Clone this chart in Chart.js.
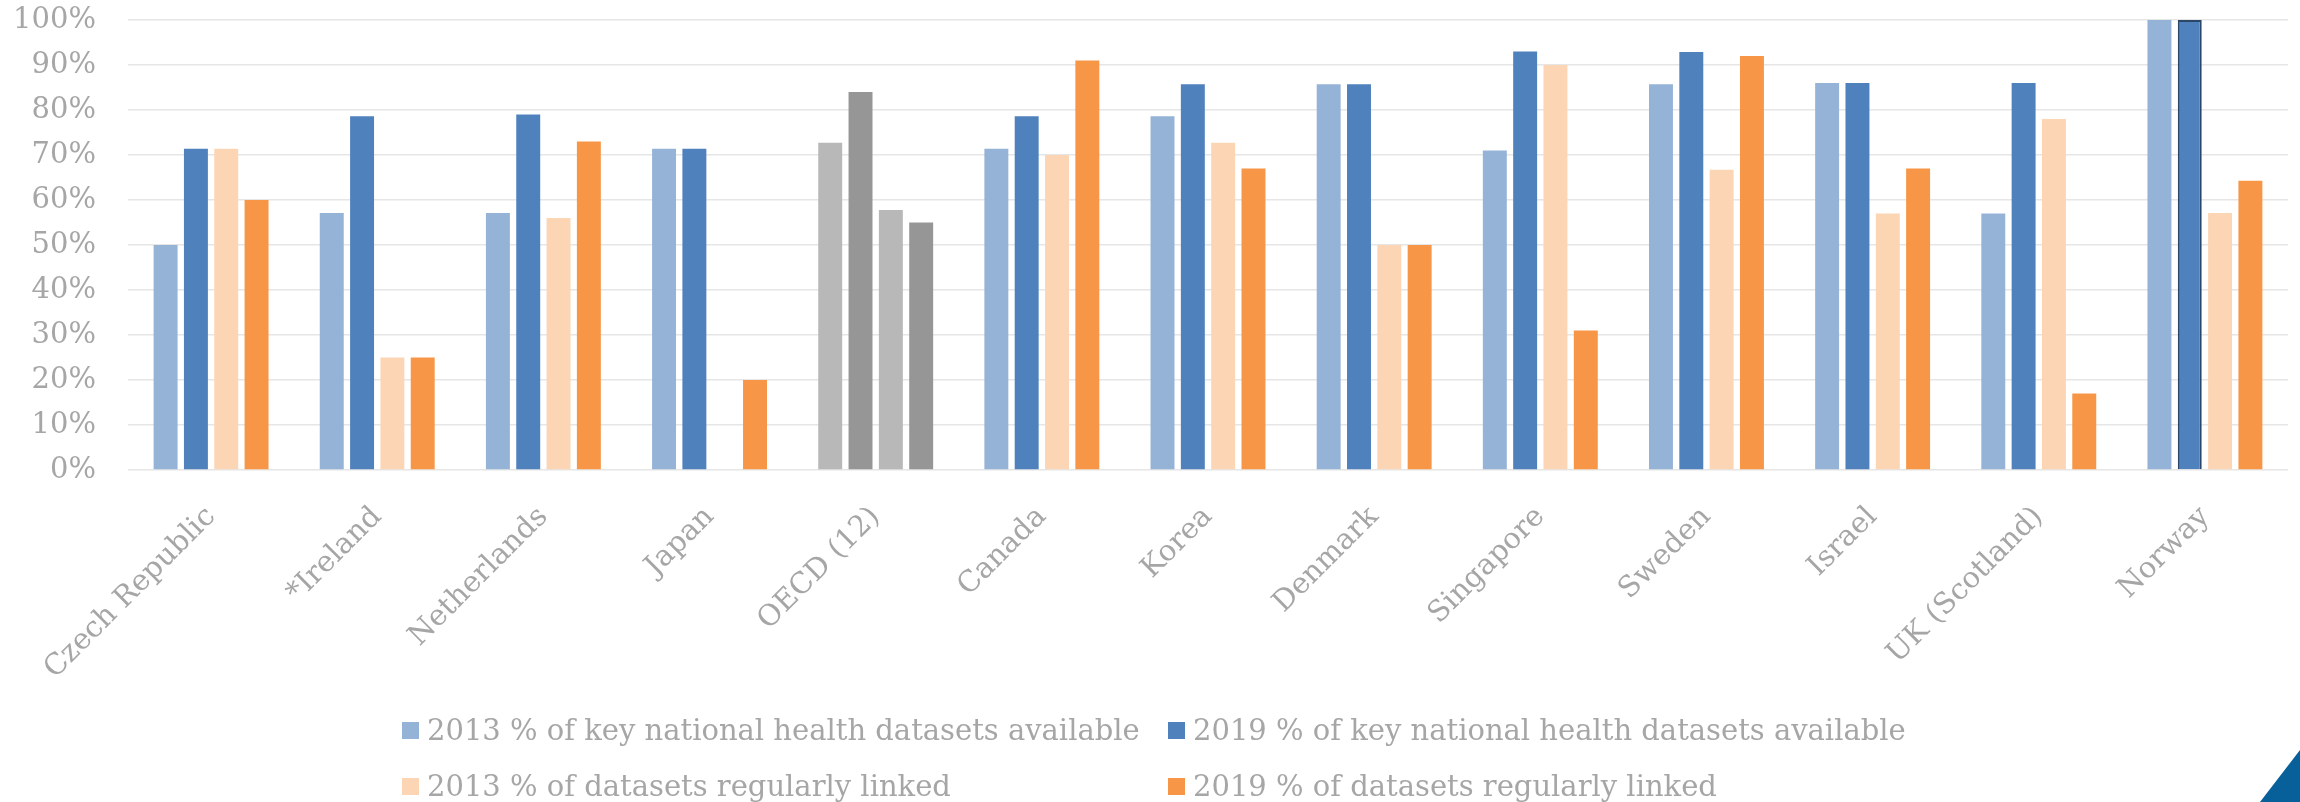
<!DOCTYPE html>
<html><head><meta charset="utf-8">
<script src="https://cdn.jsdelivr.net/npm/chart.js@4/dist/chart.umd.min.js"></script>
<style>
html,body{margin:0;padding:0;background:#fff;}
#wrap{position:relative;width:2300px;height:802px;overflow:hidden;background:#fff;}
#c{position:absolute;left:0;top:0;}
.leg{position:absolute;font-family:"DejaVu Serif";font-size:29px;color:#a6a6a6;white-space:nowrap;display:flex;align-items:center;height:30px;}
.leg .box{display:inline-block;width:17px;height:17px;margin-right:8px;flex:none;}
#tri{position:absolute;left:2260px;top:750px;width:40px;height:52px;background:#07609a;clip-path:polygon(0 100%,100% 0,100% 100%);}
</style></head>
<body><div id="wrap"><canvas id="c" width="2300" height="802" style="width:2300px;height:802px"></canvas><div id="legend"></div><div id="tri"></div></div>
<script>
const categories = ["Czech Republic","*Ireland","Netherlands","Japan","OECD (12)","Canada","Korea","Denmark","Singapore","Sweden","Israel","UK (Scotland)","Norway"];
const seriesNames = ["2013 % of key national health datasets available","2019 % of key national health datasets available","2013 % of datasets regularly linked","2019 % of datasets regularly linked"];
const avail2013  = [50, 57.1, 57.1, 71.4, 72.7, 71.4, 78.6, 85.7, 71, 85.7, 86, 57, 100];
const avail2019  = [71.4, 78.6, 79, 71.4, 84, 78.6, 85.7, 85.7, 93, 92.9, 86, 86, 100];
const linked2013 = [71.4, 25, 56, null, 57.8, 70, 72.7, 50, 90, 66.7, 57, 78, 57.1];
const linked2019 = [60, 25, 73, 20, 55, 91, 67, 50, 31, 92, 67, 17, 64.3];
const yTicks = [0,10,20,30,40,50,60,70,80,90,100];

const seriesColors = ["#95b3d7","#4f81bd","#fcd5b5","#f79646"];
const oecdColors = ["#b8b8b8","#969696","#b8b8b8","#969696"];
const values = [avail2013, avail2019, linked2013, linked2019];

const datasets = values.map((vals, i) => ({
  label: seriesNames[i],
  data: vals,
  backgroundColor: categories.map(c => c.startsWith("OECD") ? oecdColors[i] : seriesColors[i]),
  borderColor: categories.map(c => (i === 1 && c === "Norway") ? "#2b4668" : "rgba(0,0,0,0)"),
  borderWidth: categories.map(c => (i === 1 && c === "Norway") ? 2 : 0),
  categoryPercentage: 0.73,
  barPercentage: 0.79
}));

const textColor = "#a6a6a6";
new Chart(document.getElementById("c"), {
  type: "bar",
  data: { labels: categories, datasets },
  options: {
    responsive: false,
    animation: false,
    devicePixelRatio: 1,
    layout: { padding: { left: 0, right: 12, top: 20, bottom: 0 } },
    plugins: { legend: { display: false }, tooltip: { enabled: false } },
    scales: {
      x: {
        grid: { display: false },
        border: { display: false },
        ticks: { autoSkip: false, minRotation: 45, maxRotation: 45, padding: 22, color: textColor,
                 font: { family: "DejaVu Serif", size: 29 } },
        afterFit(s) { s.height = 332; s.paddingLeft = 0; s.paddingRight = 0; }
      },
      y: {
        min: 0, max: 100,
        afterBuildTicks(s) { s.ticks = yTicks.map(v => ({ value: v })); },
        grid: { color: "#e6e6e6", lineWidth: 1.5, drawTicks: false },
        border: { display: false },
        ticks: { padding: 32, color: textColor, font: { family: "DejaVu Serif", size: 29 },
                 callback: v => v + "%" },
        afterFit(s) { s.width = 128; s.paddingTop = 0; s.paddingBottom = 0; }
      }
    }
  }
});

const legendPos = [[402,715],[1168,715],[402,771],[1168,771]];
const legendEl = document.getElementById("legend");
seriesNames.forEach((name, i) => {
  const d = document.createElement("div");
  d.className = "leg";
  d.style.left = legendPos[i][0] + "px";
  d.style.top = legendPos[i][1] + "px";
  const b = document.createElement("span");
  b.className = "box";
  b.style.background = seriesColors[i];
  d.appendChild(b);
  d.appendChild(document.createTextNode(name));
  legendEl.appendChild(d);
});
</script>
</body></html>
